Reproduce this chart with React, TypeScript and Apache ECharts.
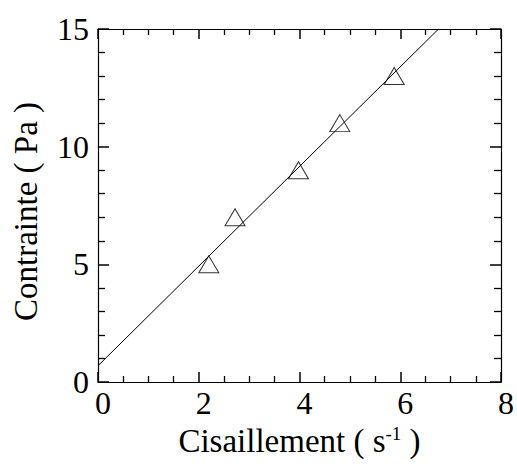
import React, { useEffect, useRef } from "react";
import * as echarts from "echarts";

const shearRate = [2.2, 2.72, 3.98, 4.8, 5.88];
const stress = [5.0, 7.0, 9.0, 11.0, 13.0];
const fitX = [0, 6.76];
const fitY = [0.69, 15];
const xTicks = [0, 2, 4, 6, 8];
const yTicks = [0, 5, 10, 15];

const FONT = "Liberation Serif";

function xAxisDef(pos: string) {
  return {
    type: "value",
    position: pos,
    min: xTicks[0],
    max: xTicks[xTicks.length - 1],
    interval: 2,
    axisLine: { show: true, onZero: false, lineStyle: { color: "#000", width: 1.2 } },
    axisTick: { show: true, inside: true, length: 10, lineStyle: { color: "#000", width: 1.5 } },
    minorTick: { show: true, splitNumber: 4, length: 6, lineStyle: { color: "#000", width: 1.3 } },
    splitLine: { show: false },
    minorSplitLine: { show: false },
  };
}
function yAxisDef(pos: string) {
  return {
    type: "value",
    position: pos,
    min: yTicks[0],
    max: yTicks[yTicks.length - 1],
    interval: 5,
    axisLine: { show: true, onZero: false, lineStyle: { color: "#000", width: 1.2 } },
    axisTick: { show: true, inside: true, length: 11, lineStyle: { color: "#000", width: 1.5 } },
    minorTick: { show: true, splitNumber: 5, length: 7, lineStyle: { color: "#000", width: 1.3 } },
    splitLine: { show: false },
    minorSplitLine: { show: false },
  };
}

export default function App() {
  const ref = useRef<HTMLDivElement>(null);
  useEffect(() => {
    if (!ref.current) return;
    const chart = echarts.init(ref.current, null, { renderer: "svg" });
    chart.setOption({
      animation: false,
      backgroundColor: "#fff",
      grid: { left: 98, right: 14, top: 29, bottom: 82, containLabel: false },
      xAxis: [
        {
          ...xAxisDef("bottom"),
          axisLabel: {
            color: "#000",
            fontFamily: FONT,
            fontSize: 32,
            margin: 5,
            padding: [0, 0, 0, 10],
          },
          name: "Cisaillement ( s{sup|-1} )",
          nameLocation: "middle",
          nameGap: 25,
          nameTextStyle: {
            color: "#000",
            fontFamily: FONT,
            fontSize: 33,
            lineHeight: 34,
            rich: {
              sup: {
                fontFamily: FONT,
                fontSize: 19,
                lineHeight: 19,
                verticalAlign: "top",
                color: "#000",
              },
            },
          },
        },
        { ...xAxisDef("top"), axisLabel: { show: false } },
      ],
      yAxis: [
        {
          ...yAxisDef("left"),
          axisLabel: {
            color: "#000",
            fontFamily: FONT,
            fontSize: 32,
            margin: 9,
            padding: [0, 0, 8, 0],
          },
          name: "Contrainte ( Pa )",
          nameLocation: "middle",
          nameGap: 56,
          nameTextStyle: {
            color: "#000",
            fontFamily: FONT,
            fontSize: 33,
            padding: [0, 12, 0, 0],
          },
        },
        { ...yAxisDef("right"), axisLabel: { show: false } },
      ],
      series: [
        {
          type: "line",
          data: fitX.map((x, i) => [x, fitY[i]]),
          showSymbol: false,
          symbol: "none",
          lineStyle: { color: "#000", width: 1 },
          silent: true,
        },
        {
          type: "scatter",
          data: shearRate.map((x, i) => [x, stress[i]]),
          symbol: "triangle",
          symbolSize: [20, 17],
          itemStyle: { color: "rgba(0,0,0,0)", borderColor: "#000", borderWidth: 1 },
        },
      ],
    });
    return () => chart.dispose();
  }, []);
  return (
    <div
      ref={ref}
      style={{ position: "fixed", left: 0, top: 0, width: 517, height: 464, background: "#fff" }}
    />
  );
}
